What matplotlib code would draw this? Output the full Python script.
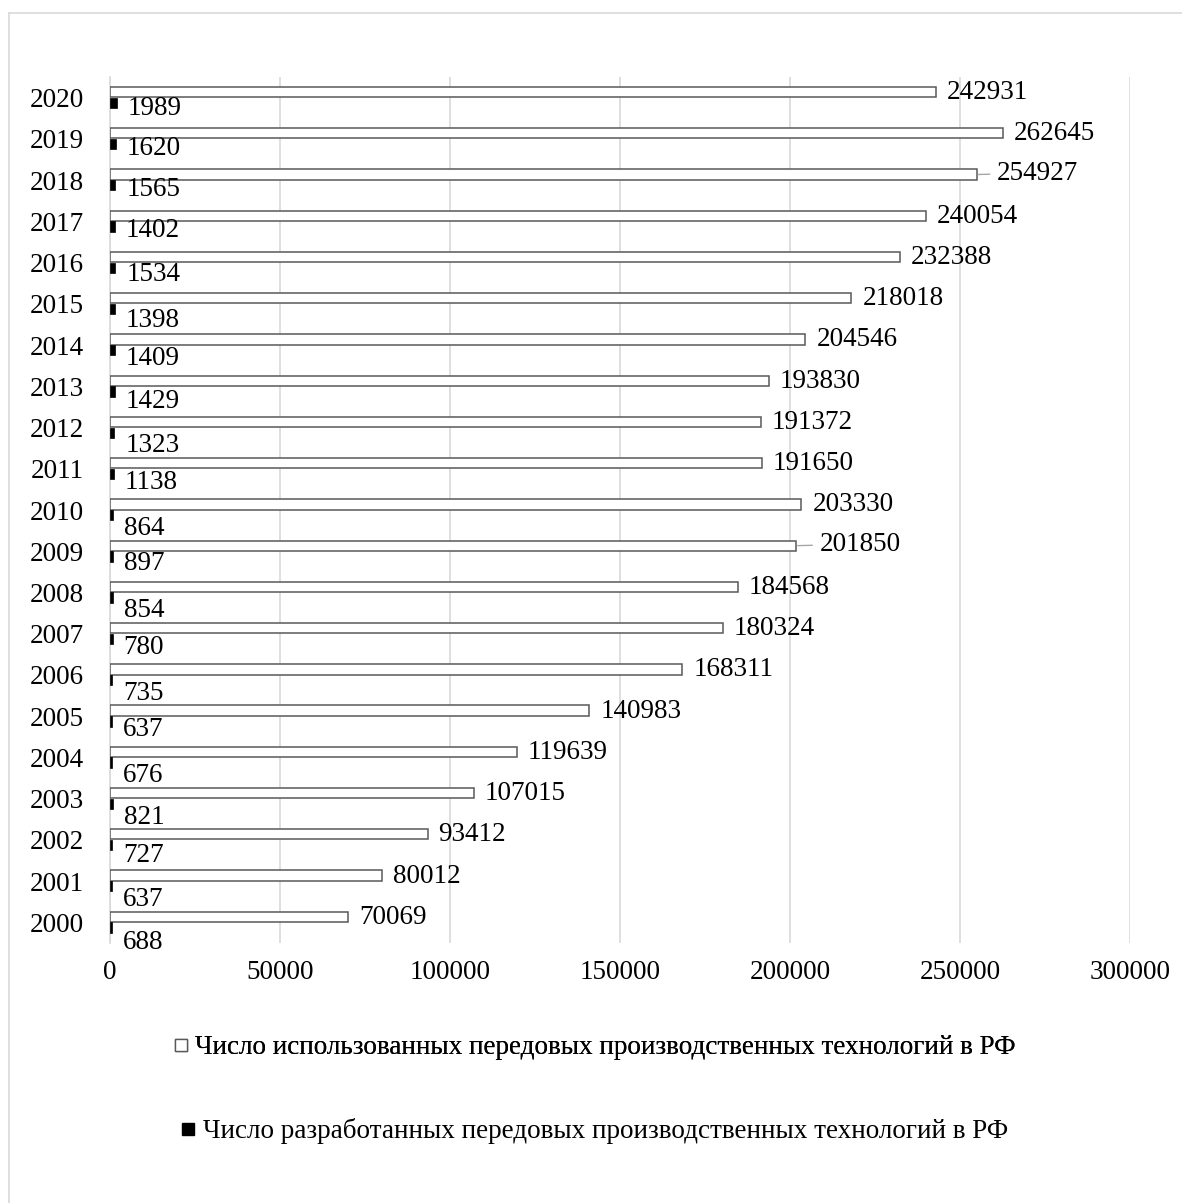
import numpy as np
import matplotlib
matplotlib.use('Agg')
import matplotlib.pyplot as plt
from matplotlib.lines import Line2D

# данные
years = list(range(2000, 2021))
used = [70069, 80012, 93412, 107015, 119639, 140983, 168311, 180324, 184568, 201850,
        203330, 191650, 191372, 193830, 204546, 218018, 232388, 240054, 254927, 262645, 242931]
developed = [688, 637, 727, 821, 676, 637, 735, 780, 854, 897,
             864, 1138, 1323, 1429, 1409, 1398, 1534, 1402, 1565, 1620, 1989]
xticks = [0, 50000, 100000, 150000, 200000, 250000, 300000]
name_used = 'Число использованных передовых производственных технологий в РФ'
name_dev = 'Число разработанных передовых производственных технологий в РФ'

# сдвиги подписей (пиксели вниз), как расставлено в исходнике
dev_label_dy = [12, 11, 8, 11, 10, 6, 11, 6, 10, 5, 11, 6, 10, 8, 6, 9, 4, 2, 2, 2, 3]
used_leader = {2018: 20, 2009: 23}

plt.rcParams['font.family'] = ['Liberation Serif', 'DejaVu Serif']
FS = 19.5
GRID = '#d9d9d9'
EDGE = '#595959'

fig = plt.figure(figsize=(11.82, 12.03), dpi=100)
ax = fig.add_axes([110 / 1182, 1 - 943 / 1203, 1020 / 1182, 866 / 1203])

y = np.arange(len(years))
h = 0.25
ax.barh(y + 0.135, used, height=h, color='white', edgecolor=EDGE, linewidth=1.1, zorder=3)
ax.barh(y - 0.125, developed, height=h, color='black', edgecolor='black', linewidth=0.5, zorder=3)

for i, yr in enumerate(years):
    dx = used_leader.get(yr, 11)
    dy = -9 + 2 if yr not in used_leader else -9 + 4
    if yr in used_leader:
        ax.annotate(str(used[i]), xy=(used[i], y[i] + 0.135), xytext=(dx, dy),
                    textcoords='offset pixels', ha='left', va='baseline', fontsize=FS,
                    arrowprops=dict(arrowstyle='-', color='#a6a6a6', lw=1,
                                    shrinkA=3, shrinkB=1))
    else:
        ax.annotate(str(used[i]), xy=(used[i], y[i] + 0.135), xytext=(dx, dy),
                    textcoords='offset pixels', ha='left', va='baseline', fontsize=FS)
    ax.annotate(str(developed[i]), xy=(developed[i], y[i] - 0.125),
                xytext=(11, -(dev_label_dy[i] + 9)),
                textcoords='offset pixels', ha='left', va='baseline', fontsize=FS)

ax.set_xlim(0, 300000)
ax.set_ylim(-0.5, len(years) - 0.5)
ax.set_xticks(xticks)
ax.set_xticklabels([str(v) for v in xticks], fontsize=FS)
ax.set_yticks(y)
ax.set_yticklabels([str(v) for v in years], fontsize=FS)
ax.tick_params(axis='both', length=0)
ax.tick_params(axis='y', pad=19)
ax.tick_params(axis='x', pad=12)
ax.xaxis.grid(True, color=GRID, linewidth=1.2, zorder=0)
ax.set_axisbelow(True)
for s in ['top', 'right', 'bottom']:
    ax.spines[s].set_visible(False)
ax.spines['left'].set_color(GRID)
ax.spines['left'].set_linewidth(1.2)

# легенда: каждая запись по центру отдельно
h1 = Line2D([], [], linestyle='none', marker='s', markersize=8.5,
            markerfacecolor='white', markeredgecolor=EDGE, markeredgewidth=1)
h2 = Line2D([], [], linestyle='none', marker='s', markersize=8.5,
            markerfacecolor='black', markeredgecolor='black')
leg1 = fig.legend([h1], [name_used], loc='center', bbox_to_anchor=(595 / 1182, 1 - 1048 / 1203),
                  frameon=False, fontsize=FS, handlelength=0.45, handletextpad=0.3)
fig.legend([h2], [name_dev], loc='center', bbox_to_anchor=(595 / 1182, 1 - 1131 / 1203),
           frameon=False, fontsize=FS, handlelength=0.45, handletextpad=0.3)
fig.add_artist(leg1)

# рамка области диаграммы
fig.add_artist(Line2D([9 / 1182, 9 / 1182], [0, 1 - 13 / 1203], transform=fig.transFigure,
                      color=GRID, linewidth=1.2))
fig.add_artist(Line2D([9 / 1182, 1], [1 - 13 / 1203, 1 - 13 / 1203], transform=fig.transFigure,
                      color=GRID, linewidth=1.2))

fig.savefig('out.png', dpi=100, facecolor='white')
